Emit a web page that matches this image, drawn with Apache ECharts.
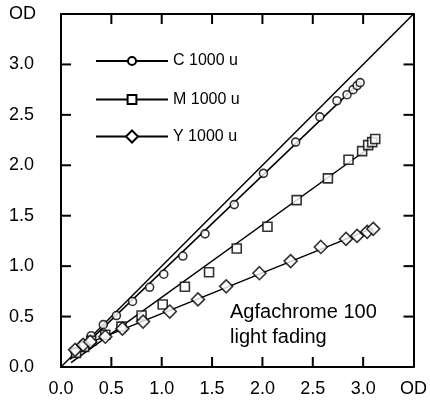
<!DOCTYPE html>
<html>
<head>
<meta charset="utf-8">
<script src="https://cdn.jsdelivr.net/npm/echarts@6/dist/echarts.min.js"></script>
<style>
  html, body { margin: 0; padding: 0; background: #fff; }
  #chart { width: 430px; height: 410px; }
</style>
</head>
<body>
<div id="chart"></div>
<script>
// Axis range and ticks (optical density on both axes)
const axisMin = 0;
const axisMax = 3.5;
const axisStep = 0.5;
const axisUnit = 'OD';
const tickValues = [0.5, 1.0, 1.5, 2.0, 2.5, 3.0];

// Series names
const seriesNames = ['C 1000 u', 'M 1000 u', 'Y 1000 u'];

// Cyan: initial density (x) vs density after fading (y)
const cX = [0.14, 0.22, 0.30, 0.42, 0.55, 0.71, 0.88, 1.02, 1.21, 1.43, 1.72, 2.01, 2.33, 2.57, 2.74, 2.84, 2.90, 2.94, 2.97];
const cY = [0.15, 0.23, 0.31, 0.42, 0.51, 0.65, 0.79, 0.92, 1.10, 1.32, 1.61, 1.92, 2.23, 2.48, 2.64, 2.70, 2.75, 2.79, 2.82];

// Magenta
const mX = [0.15, 0.23, 0.30, 0.44, 0.60, 0.80, 1.01, 1.23, 1.47, 1.745, 2.05, 2.34, 2.65, 2.855, 2.99, 3.05, 3.09, 3.12];
const mY = [0.14, 0.20, 0.26, 0.32, 0.40, 0.51, 0.62, 0.795, 0.94, 1.175, 1.39, 1.655, 1.87, 2.055, 2.14, 2.20, 2.23, 2.26];

// Yellow
const yX = [0.14, 0.22, 0.29, 0.44, 0.61, 0.815, 1.08, 1.36, 1.64, 1.97, 2.28, 2.58, 2.83, 2.94, 3.04, 3.10];
const yY = [0.17, 0.22, 0.25, 0.30, 0.38, 0.45, 0.55, 0.67, 0.80, 0.93, 1.05, 1.19, 1.27, 1.30, 1.34, 1.37];

// Diagonal reference (no change)
const diagonal = [axisMin, axisMax];

const FONT = '"Liberation Sans", Arial, Helvetica, sans-serif';
const TICK_LEN = 10;

function pairs(xs, ys) { return xs.map((x, i) => [x, ys[i]]); }

// Least-squares trend line across the measured range
function trend(xs, ys) {
  const n = xs.length;
  const mx = xs.reduce((a, b) => a + b, 0) / n;
  const my = ys.reduce((a, b) => a + b, 0) / n;
  let sxy = 0, sxx = 0;
  for (let i = 0; i < n; i++) { sxy += (xs[i] - mx) * (ys[i] - my); sxx += (xs[i] - mx) * (xs[i] - mx); }
  const k = sxy / sxx, b = my - k * mx;
  const x0 = Math.min(...xs) - 0.05, x1 = Math.max(...xs);
  return [[x0, k * x0 + b], [x1, k * x1 + b]];
}

const groups = [
  { name: seriesNames[0], xs: cX, ys: cY, symbol: 'circle', size: 8, legendH: 10, top: 58 },
  { name: seriesNames[1], xs: mX, ys: mY, symbol: 'rect', size: 9, legendH: 11, top: 97 },
  { name: seriesNames[2], xs: yX, ys: yY, symbol: 'diamond', size: 13, legendH: 15, top: 136 }
];

const fmt = v => (Math.abs(v - axisMax) < 1e-9 ? axisUnit : v.toFixed(1));

function axis(position, extra) {
  return Object.assign({
    type: 'value', position: position, min: axisMin, max: axisMax, interval: axisStep,
    axisLine: { show: true, onZero: false, lineStyle: { color: '#000', width: 2 } },
    axisTick: { show: false },
    splitLine: { show: false },
    axisLabel: { show: false }
  }, extra || {});
}

const labelStyle = { fontFamily: FONT, fontSize: 18, color: '#000' };

const series = [
  {
    type: 'line', data: diagonal.map(v => [v, v]), symbol: 'none', silent: true,
    lineStyle: { color: '#000', width: 1.5 }, z: 2
  }
];

groups.forEach(g => {
  series.push({
    name: g.name, type: 'line', data: trend(g.xs, g.ys),
    symbol: 'empty' + g.symbol.charAt(0).toUpperCase() + g.symbol.slice(1),
    showSymbol: false, symbolSize: g.size,
    itemStyle: { color: '#000' },
    lineStyle: { color: '#000', width: 1.5 }, z: 2
  });
  series.push({
    type: 'scatter', data: pairs(g.xs, g.ys), symbol: g.symbol, symbolSize: g.size,
    itemStyle: { color: '#fff', borderColor: '#000', borderWidth: 1.6 }, z: 3
  });
});

const legends = groups.map(g => ({
  data: [g.name], orient: 'vertical', left: 95, top: g.top - g.legendH / 2,
  padding: 0, itemWidth: 72, itemHeight: g.legendH, selectedMode: false,
  textStyle: { fontFamily: FONT, fontSize: 16, color: '#000' }
}));

const note = {
  id: 'note', type: 'text', left: 230, top: 300,
  style: { text: 'Agfachrome 100\nlight fading', font: '20px ' + FONT, lineHeight: 25, fill: '#000' }
};

const chart = echarts.init(document.getElementById('chart'), null, { renderer: 'canvas' });
chart.setOption({
  animation: false,
  backgroundColor: '#fff',
  grid: { left: 61, top: 14, width: 354, height: 353, containLabel: false },
  legend: legends,
  xAxis: [
    axis('bottom', {
      axisLabel: Object.assign({ show: true, formatter: fmt, margin: 13, showMinLabel: true, showMaxLabel: true }, labelStyle)
    }),
    axis('top')
  ],
  yAxis: [
    axis('left', {
      axisLabel: Object.assign({ show: true, formatter: fmt, margin: 52, align: 'left', showMinLabel: true, showMaxLabel: true }, labelStyle)
    }),
    axis('right')
  ],
  graphic: [note],
  series: series
});

// Inward tick marks on all four sides, placed through the axis scales
const tickStyle = { stroke: '#000', lineWidth: 2 };
const ticks = [];
tickValues.forEach((v, i) => {
  const b = chart.convertToPixel({ gridIndex: 0 }, [v, axisMin]);
  const t = chart.convertToPixel({ gridIndex: 0 }, [v, axisMax]);
  const l = chart.convertToPixel({ gridIndex: 0 }, [axisMin, v]);
  const r = chart.convertToPixel({ gridIndex: 0 }, [axisMax, v]);
  ticks.push(
    { id: 'tb' + i, type: 'line', z: 10, shape: { x1: b[0], y1: b[1], x2: b[0], y2: b[1] - TICK_LEN }, style: tickStyle },
    { id: 'tt' + i, type: 'line', z: 10, shape: { x1: t[0], y1: t[1], x2: t[0], y2: t[1] + TICK_LEN }, style: tickStyle },
    { id: 'tl' + i, type: 'line', z: 10, shape: { x1: l[0], y1: l[1], x2: l[0] + TICK_LEN, y2: l[1] }, style: tickStyle },
    { id: 'tr' + i, type: 'line', z: 10, shape: { x1: r[0], y1: r[1], x2: r[0] - TICK_LEN, y2: r[1] }, style: tickStyle }
  );
});
chart.setOption({ graphic: [note].concat(ticks) });
</script>
</body>
</html>
